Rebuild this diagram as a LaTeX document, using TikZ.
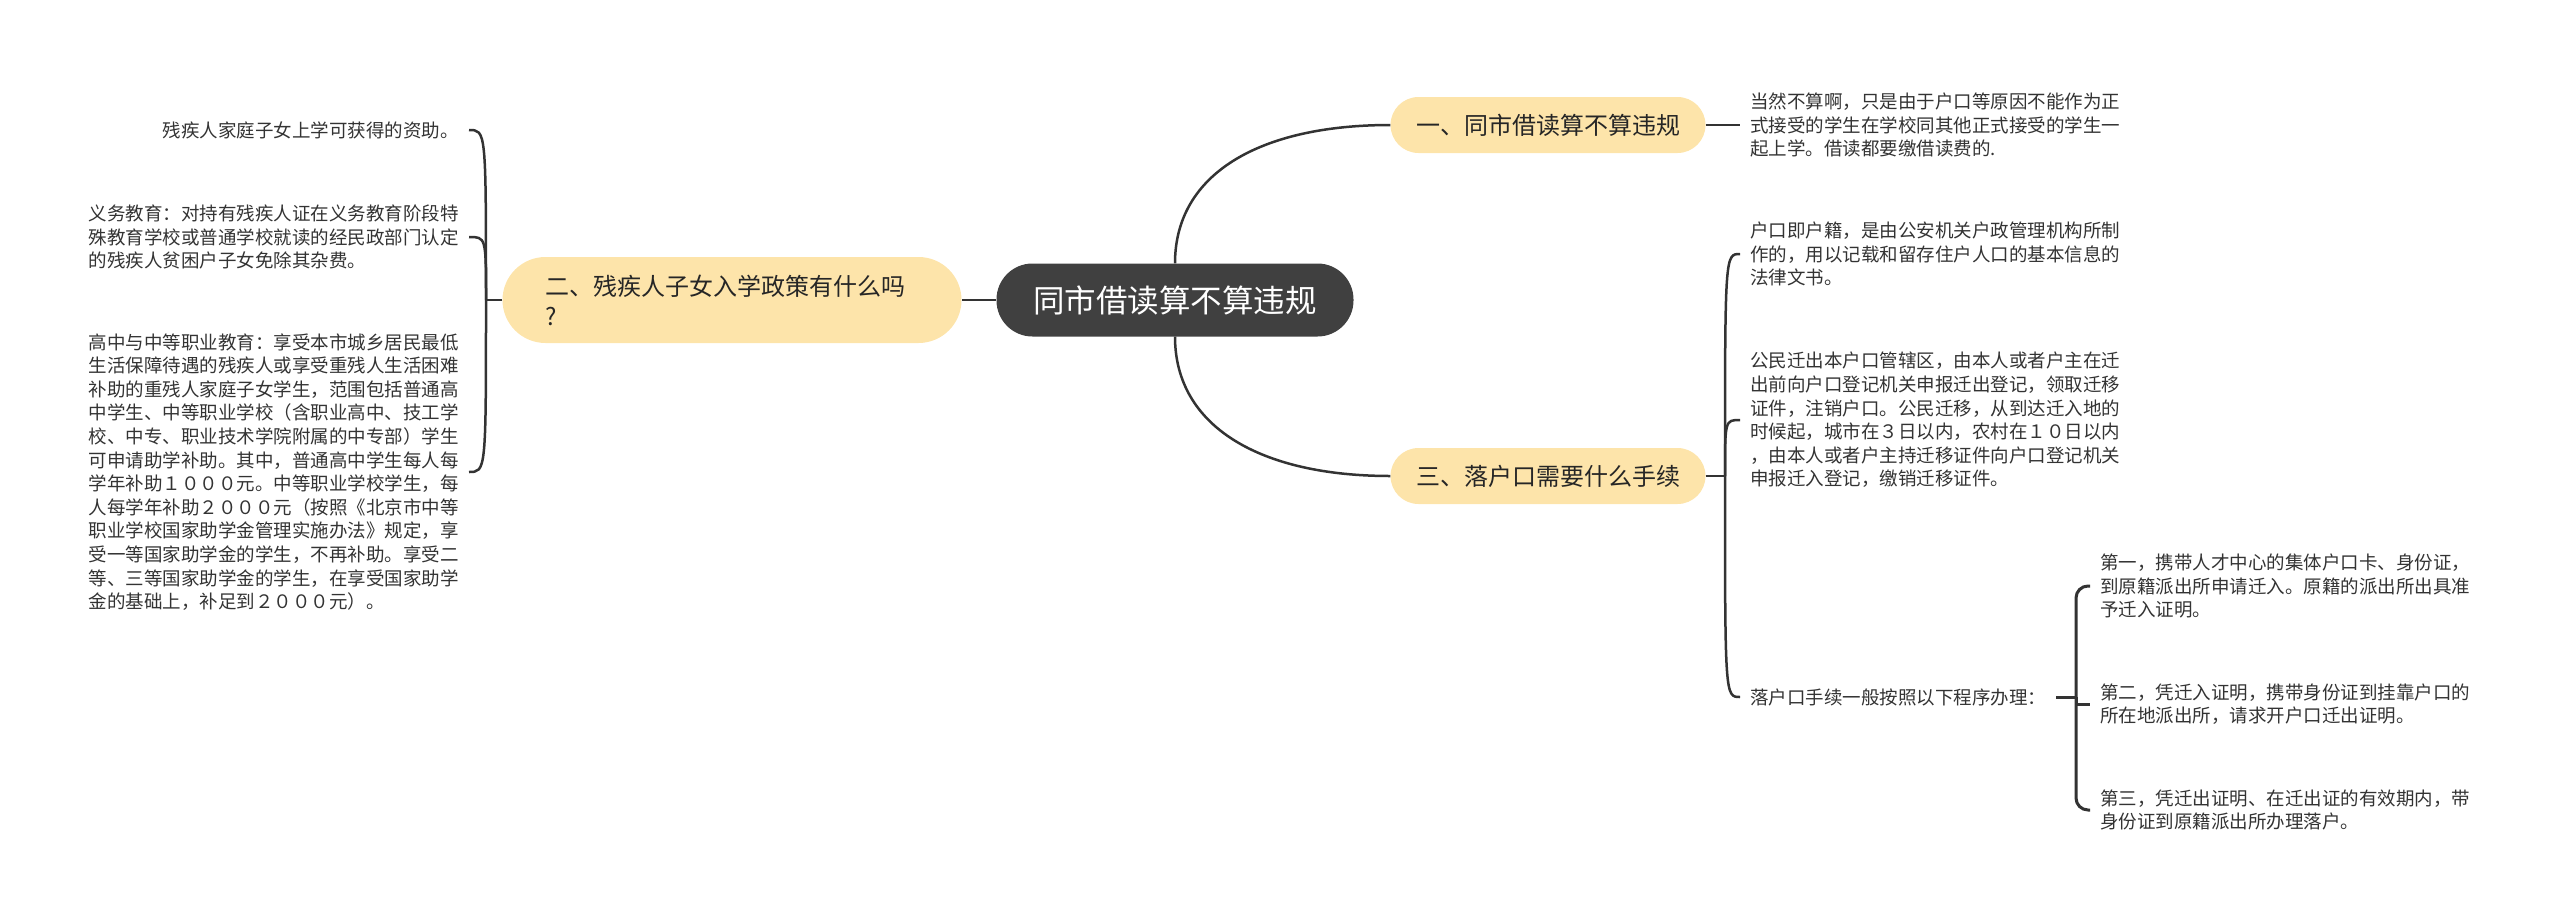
\documentclass[tikz,border=0pt]{standalone}
\usepackage{fontspec}
\setmainfont{Noto Sans CJK SC}
\usetikzlibrary{calc}
\definecolor{rootfill}{HTML}{404040}
\definecolor{topicfill}{HTML}{FDE4AA}
\definecolor{linkcol}{HTML}{333333}
\definecolor{leaftext}{HTML}{333333}

\begin{document}
\begin{tikzpicture}[x=1pt, y=-1pt,
    root/.style={fill=rootfill, text=white, rounded corners=36pt, minimum width=357pt, minimum height=73pt, font=\fontsize{31.5}{36}\selectfont, inner sep=0pt},
    topic/.style={fill=topicfill, text=black!85, rounded corners=28pt, minimum width=315pt, minimum height=56pt, font=\fontsize{24}{30}\selectfont, inner sep=0pt},
    leaf/.style={text=leaftext, align=left, inner xsep=10pt, inner ysep=0pt, font=\fontsize{18.5}{23.6}\selectfont},
    link/.style={draw=linkcol, line width=2.5pt}
]
    \useasboundingbox (0,0) rectangle (2560,921);

    \node[root] (root) at (1175,300) {同市借读算不算违规};
    \node[topic] (sub1) at (1548,125) {一、同市借读算不算违规};
    \node[topic, minimum width=459pt, minimum height=86pt, rounded corners=43pt, text width=373pt, align=left] (sub2) at (732,300) {二、残疾人子女入学政策有什么吗\\?};
    \node[topic] (sub3) at (1548,476) {三、落户口需要什么手续};

    % left side
    \node[leaf, anchor=east] (la) at (469,130) {残疾人家庭子女上学可获得的资助。};
    \node[leaf, anchor=east] (lb) at (469,237) {义务教育：对持有残疾人证在义务教育阶段特\\殊教育学校或普通学校就读的经民政部门认定\\的残疾人贫困户子女免除其杂费。};
    \node[leaf, anchor=east] (lc) at (469,472) {高中与中等职业教育：享受本市城乡居民最低\\生活保障待遇的残疾人或享受重残人生活困难\\补助的重残人家庭子女学生，范围包括普通高\\中学生、中等职业学校（含职业高中、技工学\\校、中专、职业技术学院附属的中专部）学生\\可申请助学补助。其中，普通高中学生每人每\\学年补助１０００元。中等职业学校学生，每\\人每学年补助２０００元（按照《北京市中等\\职业学校国家助学金管理实施办法》规定，享\\受一等国家助学金的学生，不再补助。享受二\\等、三等国家助学金的学生，在享受国家助学\\金的基础上，补足到２０００元）。};

    % right side
    \node[leaf, anchor=west] (l1) at (1740,125) {当然不算啊，只是由于户口等原因不能作为正\\式接受的学生在学校同其他正式接受的学生一\\起上学。借读都要缴借读费的.};
    \node[leaf, anchor=west] (l3a) at (1740,254) {户口即户籍，是由公安机关户政管理机构所制\\作的，用以记载和留存住户人口的基本信息的\\法律文书。};
    \node[leaf, anchor=west] (l3b) at (1740,420) {公民迁出本户口管辖区，由本人或者户主在迁\\出前向户口登记机关申报迁出登记，领取迁移\\证件，注销户口。公民迁移，从到达迁入地的\\时候起，城市在３日以内，农村在１０日以内\\，由本人或者户主持迁移证件向户口登记机关\\申报迁入登记，缴销迁移证件。};
    \node[leaf, anchor=west] (l3c) at (1740,697) {落户口手续一般按照以下程序办理：};
    \node[leaf, anchor=west] (s1) at (2090,586) {第一，携带人才中心的集体户口卡、身份证，\\到原籍派出所申请迁入。原籍的派出所出具准\\予迁入证明。};
    \node[leaf, anchor=west] (s2) at (2090,704) {第二，凭迁入证明，携带身份证到挂靠户口的\\所在地派出所，请求开户口迁出证明。};
    \node[leaf, anchor=west] (s3) at (2090,810) {第三，凭迁出证明、在迁出证的有效期内，带\\身份证到原籍派出所办理落户。};

    \coordinate (jl) at (486,300);
    \coordinate (j3) at (1725,476);
    \coordinate (js) at (2076,697);

    \draw[link] (root.west) -- (sub2.east);
    \draw[link] (root.north) .. controls ($(root.north)+(0,-90)$) and ($(sub1.west)+(-130,0)$) .. (sub1.west);
    \draw[link] (root.south) .. controls ($(root.south)+(0,90)$) and ($(sub3.west)+(-130,0)$) .. (sub3.west);

    \draw[link] (sub2.west) -- (jl);
    \foreach \n in {la,lb,lc}
        \draw[link] (jl) .. controls (jl |- \n.east) .. (\n.east);

    \draw[link] (sub1.east) -- (l1.west);
    \draw[link] (sub3.east) -- (j3);
    \foreach \n in {l3a,l3b,l3c}
        \draw[link] (j3) .. controls (j3 |- \n.west) .. (\n.west);

    \draw[link, line width=3pt] (l3c.east) -- (js);
    \foreach \n in {s1,s3}
        \draw[link, line width=3pt, rounded corners=12pt] (js) |- (\n.west);
    \draw[link, line width=3pt] (js) |- (s2.west);
\end{tikzpicture}
\end{document}
